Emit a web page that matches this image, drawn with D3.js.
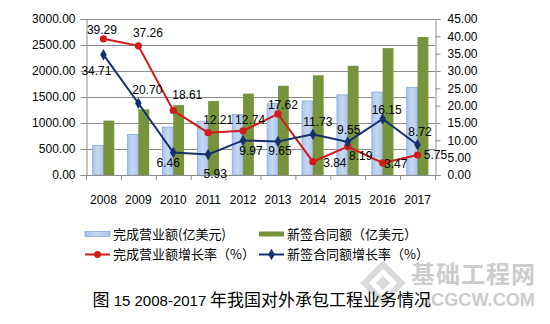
<!DOCTYPE html>
<html><head><meta charset="utf-8">
<script src="https://cdn.jsdelivr.net/npm/d3@7"></script>
<style>body{margin:0;background:#fff}svg{display:block}</style>
</head><body>
<svg id="c" width="550" height="324"></svg>
<script>
// ---------- data ----------
const years = ["2008","2009","2010","2011","2012","2013","2014","2015","2016","2017"];
const revenue = [566.1, 777.1, 921.7, 1034.2, 1165.9, 1371.4, 1424.1, 1540.7, 1594.2, 1685.9];
const contracts = [1045.6, 1262.1, 1343.7, 1423.3, 1565.3, 1716.3, 1917.6, 2100.7, 2440.1, 2652.8];
const revenueGrowth = [39.29, 37.26, 18.61, 12.21, 12.74, 17.62, 3.84, 8.19, 3.47, 5.75];
const contractGrowth = [34.71, 20.70, 6.46, 5.93, 9.97, 9.65, 11.73, 9.55, 16.15, 8.72];
const leftTicks = [0, 500, 1000, 1500, 2000, 2500, 3000];
const rightTicks = [0, 5, 10, 15, 20, 25, 30, 35, 40, 45];
const seriesNames = ["完成营业额(亿美元)", "新签合同额（亿美元）", "完成营业额增长率（%）", "新签合同额增长率（%）"];
const titleParts = ["图", " 15 ", "2008-2017", " 年我国对外承包工程业务情况"];

// ---------- layout (label offsets relative to points) ----------
const redLabelOff = [[-1.5,-9],[9.6,-13],[14,-15.5],[10,-12.7],[7,-11],[5,-9],[22,1],[13,9],[13,1],[18,0]];
const navyLabelOff = [[-7,16],[9,-14],[-5,10],[7,19],[8,10],[2,9],[5,-13],[1,-12.5],[4,-9],[2.5,-13]];

const svg = d3.select("#c");
svg.append("rect").attr("width",550).attr("height",324).attr("fill","#fff");
const L = 86, R = 435, T = 19, B = 175;
const num = "'Liberation Sans', Arial, sans-serif";
const cjk = "'Noto Sans CJK SC', sans-serif";

const x = d3.scaleBand().domain(years).range([L, R]).padding(0);
const yL = d3.scaleLinear().domain([0, 3000]).range([B, T]);
const yR = d3.scaleLinear().domain([0, 45]).range([B, T]);
const bw = x.bandwidth() * 0.31;
const cx = d => x(d) + x.bandwidth() / 2;

const defs = svg.append("defs");
const g1 = defs.append("linearGradient").attr("id","gb").attr("x1","0").attr("x2","1").attr("y1","0").attr("y2","0");
g1.append("stop").attr("offset","0").attr("stop-color","#a9c4ea");
g1.append("stop").attr("offset","0.5").attr("stop-color","#c6d9f3");
g1.append("stop").attr("offset","1").attr("stop-color","#a9c4ea");

// gridlines
svg.append("g").selectAll("line").data(leftTicks.slice(1)).join("line")
  .attr("x1", L).attr("x2", R).attr("y1", d => yL(d) + 0.5).attr("y2", d => yL(d) + 0.5)
  .attr("stroke", "#8c8c8c").attr("stroke-width", 1);

// bars
svg.append("g").selectAll("rect").data(years).join("rect")
  .attr("x", (d,i) => cx(d) - bw).attr("width", bw)
  .attr("y", (d,i) => yL(revenue[i])).attr("height", (d,i) => B - yL(revenue[i]))
  .attr("fill", "url(#gb)").attr("stroke", "#86aadc").attr("stroke-width", 0.8);
svg.append("g").selectAll("rect").data(years).join("rect")
  .attr("x", (d,i) => cx(d)).attr("width", bw)
  .attr("y", (d,i) => yL(contracts[i])).attr("height", (d,i) => B - yL(contracts[i]))
  .attr("fill", "#77933c");

// axes
const axL = svg.append("g").attr("transform", `translate(${L+0.5},0)`)
  .call(d3.axisLeft(yL).tickValues(leftTicks).tickFormat(d3.format(".2f")).tickSize(6).tickPadding(5));
const axR = svg.append("g").attr("transform", `translate(${R+0.5},0)`)
  .call(d3.axisRight(yR).tickValues(rightTicks).tickFormat(d3.format(".2f")).tickSize(5).tickPadding(7));
const axB = svg.append("g").attr("transform", `translate(0,${B+0.5})`)
  .call(d3.axisBottom(x).tickSize(0).tickPadding(20));
// bottom tick marks at band boundaries
svg.append("g").selectAll("line").data(years.concat(["end"])).join("line")
  .attr("x1", (d,i) => i < years.length ? x(d) + 0.5 : R + 0.5)
  .attr("x2", (d,i) => i < years.length ? x(d) + 0.5 : R + 0.5)
  .attr("y1", B).attr("y2", B + 5).attr("stroke", "#8c8c8c");
[axL, axR, axB].forEach(a => {
  a.select(".domain").attr("stroke", "#8c8c8c");
  a.selectAll(".tick line").attr("stroke", "#8c8c8c");
  a.selectAll("text").attr("font-family", num).attr("font-size", 12).attr("fill", "#000");
});
axB.select(".domain").attr("d", `M${L},0H${R}`);

// lines
const lineR = d3.line().x((d,i) => cx(years[i])).y(d => yR(d));
svg.append("path").attr("d", lineR(revenueGrowth)).attr("fill","none").attr("stroke","#d11a1a").attr("stroke-width",2);
svg.append("path").attr("d", lineR(contractGrowth)).attr("fill","none").attr("stroke","#16306e").attr("stroke-width",2);
svg.append("g").selectAll("circle").data(revenueGrowth).join("circle")
  .attr("cx", (d,i) => cx(years[i])).attr("cy", d => yR(d)).attr("r", 3.6).attr("fill", "#d11a1a");
const diamond = d3.symbol().type(d3.symbolDiamond).size(38);
svg.append("g").selectAll("path").data(contractGrowth).join("path")
  .attr("d", diamond).attr("transform", (d,i) => `translate(${cx(years[i])},${yR(d)})`).attr("fill", "#16306e");

// data labels
svg.append("g").selectAll("text").data(revenueGrowth).join("text")
  .attr("x", (d,i) => cx(years[i]) + redLabelOff[i][0]).attr("y", (d,i) => yR(d) + redLabelOff[i][1])
  .attr("dy", "0.36em").attr("text-anchor", "middle")
  .attr("font-family", num).attr("font-size", 12).attr("fill", "#000").text(d => d.toFixed(2));
svg.append("g").selectAll("text").data(contractGrowth).join("text")
  .attr("x", (d,i) => cx(years[i]) + navyLabelOff[i][0]).attr("y", (d,i) => yR(d) + navyLabelOff[i][1])
  .attr("dy", "0.36em").attr("text-anchor", "middle")
  .attr("font-family", num).attr("font-size", 12).attr("fill", "#000").text(d => d.toFixed(2));

// legend
const lg = svg.append("g");
const legendItems = [
  {name: seriesNames[0], type: "bar", fill: "url(#gb)", stroke: "#86aadc", x: 85, y: 234},
  {name: seriesNames[1], type: "bar", fill: "#77933c", stroke: "none", x: 259, y: 234},
  {name: seriesNames[2], type: "line", color: "#d11a1a", mark: "circle", x: 85, y: 254.5},
  {name: seriesNames[3], type: "line", color: "#16306e", mark: "diamond", x: 259, y: 254.5}
];
legendItems.forEach(it => {
  const g = lg.append("g").attr("transform", `translate(${it.x},${it.y})`);
  if (it.type === "bar") {
    g.append("rect").attr("x", 0).attr("y", -2.5).attr("width", 25).attr("height", 5)
      .attr("fill", it.fill).attr("stroke", it.stroke).attr("stroke-width", 0.8);
  } else {
    g.append("line").attr("x1", 0).attr("x2", 25).attr("y1", 0).attr("y2", 0).attr("stroke", it.color).attr("stroke-width", 2);
    if (it.mark === "circle") g.append("circle").attr("cx", 12.5).attr("cy", 0).attr("r", 3.4).attr("fill", it.color);
    else g.append("path").attr("d", diamond).attr("transform", "translate(12.5,0)").attr("fill", it.color);
  }
  g.append("text").attr("x", 28).attr("y", 0).attr("dy", "0.36em")
    .attr("font-family", cjk).attr("font-size", 13).attr("fill", "#000").text(it.name);
});

// watermark (drawn under the title)
const wm = svg.append("g").attr("opacity", 0.85);
wm.append("rect").attr("x", 370).attr("y", 270).attr("width", 26).attr("height", 26)
  .attr("transform", "rotate(45 383 283)").attr("fill", "none").attr("stroke", "#d4d4d4").attr("stroke-width", 6);
wm.append("rect").attr("x", 378).attr("y", 278).attr("width", 10).attr("height", 10)
  .attr("transform", "rotate(45 383 283)").attr("fill", "#d4d4d4");
wm.append("text").attr("x", 411).attr("y", 283).attr("font-family", cjk).attr("font-weight", "bold")
  .attr("font-size", 24).attr("fill", "#c4c4c4").attr("textLength", 124).text("基础工程网");
wm.append("text").attr("x", 421).attr("y", 306).attr("font-family", num).attr("font-weight", "bold")
  .attr("font-size", 19).attr("fill", "#c4c4c4").attr("textLength", 114).attr("lengthAdjust","spacingAndGlyphs").text("JCGCW.COM");

// title
const tt = svg.append("text").attr("x", 92.5).attr("y", 300.5).attr("dy", "0.36em").attr("fill", "#000");
tt.append("tspan").attr("font-family", cjk).attr("font-size", 17).text(titleParts[0]);
tt.append("tspan").attr("font-family", num).attr("font-size", 15).attr("xml:space","preserve").text(titleParts[1]);
tt.append("tspan").attr("font-family", num).attr("font-size", 15).text(titleParts[2]);
tt.append("tspan").attr("font-family", cjk).attr("font-size", 17).text(titleParts[3]);
</script>
</body></html>
